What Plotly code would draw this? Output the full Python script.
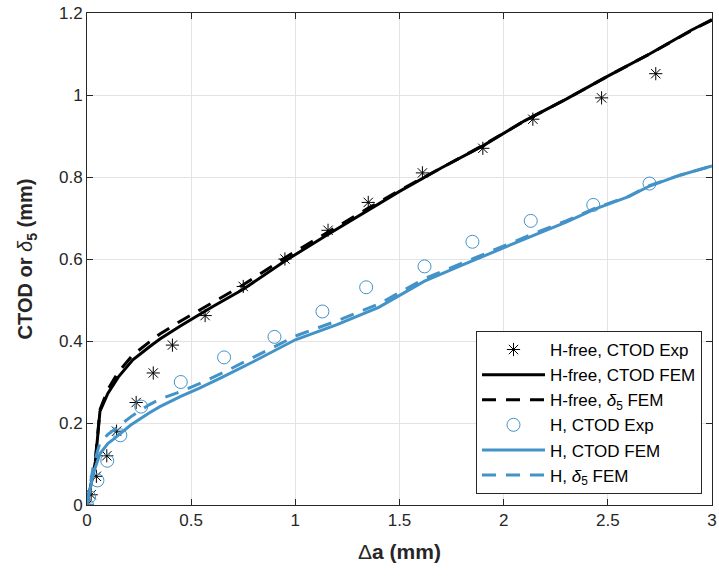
import plotly.graph_objects as go

# Experimental data
exp_hfree_x = [0, 0.02, 0.045, 0.095, 0.142, 0.236, 0.318, 0.41, 0.567, 0.75, 0.95, 1.157, 1.35, 1.61, 1.90, 2.14, 2.47, 2.73]
exp_hfree_y = [0, 0.025, 0.07, 0.12, 0.18, 0.25, 0.322, 0.39, 0.462, 0.533, 0.60, 0.67, 0.738, 0.81, 0.87, 0.941, 0.993, 1.052]

exp_h_x = [0, 0.01, 0.05, 0.097, 0.16, 0.26, 0.45, 0.658, 0.90, 1.13, 1.34, 1.62, 1.85, 2.13, 2.43, 2.70]
exp_h_y = [0, 0.02, 0.06, 0.108, 0.17, 0.24, 0.30, 0.36, 0.41, 0.472, 0.531, 0.582, 0.642, 0.693, 0.732, 0.784]

# FEM curves, H-free
fem_hfree_x = [0, 0.02, 0.04, 0.062, 0.1, 0.15, 0.22, 0.3, 0.35, 0.45, 0.6, 0.75, 0.95, 1.15, 1.35, 1.5, 1.7, 1.9, 2.1, 2.3, 2.5, 2.7, 2.9, 3.0]
fem_hfree_ctod = [0, 0.05, 0.105, 0.228, 0.272, 0.312, 0.354, 0.386, 0.405, 0.437, 0.483, 0.526, 0.595, 0.658, 0.72, 0.765, 0.822, 0.876, 0.937, 0.99, 1.046, 1.10, 1.158, 1.184]
fem_hfree_d5 = [0, 0.05, 0.108, 0.232, 0.282, 0.324, 0.366, 0.398, 0.417, 0.449, 0.494, 0.537, 0.603, 0.664, 0.724, 0.767, 0.823, 0.877, 0.937, 0.99, 1.046, 1.10, 1.157, 1.183]

# FEM curves, H
fem_h_x = [0, 0.015, 0.03, 0.062, 0.1, 0.126, 0.21, 0.3, 0.35, 0.45, 0.54, 0.65, 0.8, 1.0, 1.2, 1.4, 1.62, 1.8, 2.0, 2.135, 2.3, 2.434, 2.6, 2.7, 2.85, 3.0]
fem_h_ctod = [0, 0.04, 0.077, 0.125, 0.15, 0.16, 0.195, 0.225, 0.24, 0.265, 0.285, 0.312, 0.35, 0.403, 0.44, 0.482, 0.546, 0.585, 0.628, 0.656, 0.69, 0.721, 0.752, 0.778, 0.805, 0.827]
fem_h_d5 = [0, 0.05, 0.095, 0.152, 0.172, 0.182, 0.215, 0.245, 0.258, 0.277, 0.296, 0.322, 0.36, 0.412, 0.449, 0.49, 0.552, 0.59, 0.632, 0.66, 0.693, 0.723, 0.753, 0.779, 0.805, 0.827]

x_ticks = [0, 0.5, 1, 1.5, 2, 2.5, 3]
x_tick_labels = ["0", "0.5", "1", "1.5", "2", "2.5", "3"]
y_ticks = [0, 0.2, 0.4, 0.6, 0.8, 1.0, 1.2]
y_tick_labels = ["0", "0.2", "0.4", "0.6", "0.8", "1", "1.2"]

BLUE = "#4393c8"
AX = "#262626"
FONT = "Arial, Liberation Sans, sans-serif"

fig = go.Figure()
fig.add_trace(go.Scatter(x=exp_hfree_x, y=exp_hfree_y, mode="markers", name="H-free, CTOD Exp",
                         marker=dict(symbol="asterisk-open", size=11, color="black", line=dict(color="black", width=1))))
fig.add_trace(go.Scatter(x=fem_hfree_x, y=fem_hfree_ctod, mode="lines", name="H-free, CTOD FEM",
                         line=dict(color="black", width=3)))
fig.add_trace(go.Scatter(x=fem_hfree_x, y=fem_hfree_d5, mode="lines", name="H-free, <i>δ</i><sub>5</sub> FEM",
                         line=dict(color="black", width=3, dash="14px,10px")))
fig.add_trace(go.Scatter(x=exp_h_x, y=exp_h_y, mode="markers", name="H, CTOD Exp",
                         marker=dict(symbol="circle-open", size=13, color=BLUE, line=dict(color=BLUE, width=1))))
fig.add_trace(go.Scatter(x=fem_h_x, y=fem_h_ctod, mode="lines", name="H, CTOD FEM",
                         line=dict(color=BLUE, width=3)))
fig.add_trace(go.Scatter(x=fem_h_x, y=fem_h_d5, mode="lines", name="H, <i>δ</i><sub>5</sub> FEM",
                         line=dict(color=BLUE, width=3, dash="14px,10px")))

axis_common = dict(showline=True, linecolor=AX, linewidth=1, mirror="allticks", ticks="inside",
                   ticklen=6, tickcolor=AX, showgrid=True, gridcolor="#e3e3e3", gridwidth=1,
                   zeroline=False, automargin=False,
                   tickfont=dict(family=FONT, size=17, color=AX))

fig.update_layout(
    width=719, height=577,
    margin=dict(l=87, r=7, t=13, b=72),
    plot_bgcolor="white", paper_bgcolor="white",
    font=dict(family=FONT, color=AX),
    xaxis=dict(range=[0, 3], tickvals=x_ticks, ticktext=x_tick_labels,
               title=dict(text="Δ<b>a (mm)</b>", font=dict(family=FONT, size=21, color=AX), standoff=14),
               **axis_common),
    yaxis=dict(range=[0, 1.2], tickvals=y_ticks, ticktext=y_tick_labels,
               title=dict(text="<b>CTOD or </b><i>δ</i><b><sub>5</sub> (mm)</b>", font=dict(family=FONT, size=20, color=AX), standoff=20),
               **axis_common),
    legend=dict(x=0.6224, y=0.3537, xanchor="left", yanchor="top", bgcolor="white",
                bordercolor=AX, borderwidth=1, itemwidth=63,
                font=dict(family=FONT, size=17, color="black"), tracegroupgap=0),
    showlegend=True,
)

fig.write_html("out.html")
